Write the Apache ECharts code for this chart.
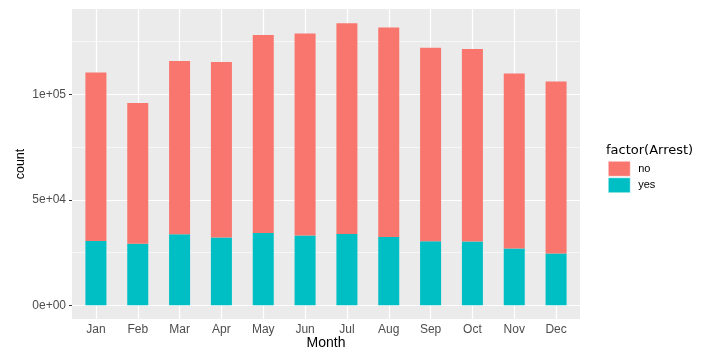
<!DOCTYPE html>
<html>
<head>
<meta charset="utf-8">
<script src="https://cdn.jsdelivr.net/npm/echarts@6/dist/echarts.min.js"></script>
<style>
html,body{margin:0;padding:0;background:#fff;}
#chart{width:710px;height:355px;}
</style>
</head>
<body>
<div id="chart"></div>
<script>
const months = ['Jan','Feb','Mar','Apr','May','Jun','Jul','Aug','Sep','Oct','Nov','Dec'];
const yesCounts = [30500, 29100, 33700, 32100, 34200, 33100, 33800, 32300, 30400, 30200, 26900, 24500];
const noCounts = [79800, 66800, 82000, 83200, 93900, 95700, 99900, 99300, 91600, 91200, 82900, 81500];
const yTickValues = [0, 50000, 100000];
const yTickLabels = ['0e+00', '5e+04', '1e+05'];
const yMinorGrid = [25000, 75000, 125000];

const fontFam = '"Liberation Sans", Arial, sans-serif';
const wideFam = '"DejaVu Sans", sans-serif';
const Y_MIN = -6500, Y_MAX = 140400;

const chart = echarts.init(document.getElementById('chart'), null, {renderer: 'canvas'});

const hLines = [];
yTickValues.forEach(v => hLines.push({yAxis: v, lineStyle: {color: '#ffffff', width: 1.2, type: 'solid'}}));
yMinorGrid.forEach(v => hLines.push({yAxis: v, lineStyle: {color: '#ffffff', width: 0.6, type: 'solid'}}));
const vLines = months.map(m => ({xAxis: m, lineStyle: {color: '#ffffff', width: 1.2, type: 'solid'}}));

chart.setOption({
  animation: false,
  backgroundColor: '#ffffff',
  title: {
    text: 'factor(Arrest)',
    left: 601, top: 139,
    textStyle: {fontFamily: wideFam, fontSize: 13, fontWeight: 'normal', color: '#000'}
  },
  legend: {
    data: ['no', 'yes'],
    orient: 'vertical',
    left: 603, top: 156,
    itemWidth: 22, itemHeight: 15, itemGap: 1,
    icon: 'rect',
    itemStyle: {borderColor: '#ffffff', borderWidth: 0.5},
    textStyle: {fontFamily: fontFam, fontSize: 11, color: '#000', padding: [0,0,0,3]}
  },
  grid: [
    {left: 72, top: 9, width: 508, height: 310, show: true, backgroundColor: '#EBEBEB', borderWidth: 0,
     containLabel: false, outerBoundsMode: 'none'},
    {left: 75, top: 9, width: 502, height: 310, show: false,
     containLabel: false, outerBoundsMode: 'none'}
  ],
  xAxis: [
    {
      gridIndex: 0, type: 'value', min: 0, max: 1, show: false
    },
    {
      gridIndex: 1, type: 'category', data: months, boundaryGap: true,
      name: 'Month', nameLocation: 'middle', nameGap: 17, nameMoveOverlap: false,
      nameTextStyle: {fontFamily: fontFam, fontSize: 14, color: '#000'},
      axisLine: {show: false},
      splitLine: {show: false},
      axisTick: {show: true, alignWithLabel: true, length: 3, lineStyle: {color: '#333'}},
      axisLabel: {fontFamily: fontFam, fontSize: 12, color: '#4D4D4D', margin: 5}
    }
  ],
  yAxis: [
    {
      gridIndex: 0, type: 'value', min: Y_MIN, max: Y_MAX,
      name: 'count', nameLocation: 'middle', nameRotate: 90, nameGap: 45, nameMoveOverlap: false,
      nameTextStyle: {fontFamily: fontFam, fontSize: 12.5, color: '#000'},
      axisLine: {show: false},
      splitLine: {show: false},
      axisTick: {show: true, customValues: yTickValues, length: 3, lineStyle: {color: '#333'}},
      axisLabel: {
        customValues: yTickValues,
        formatter: v => yTickLabels[yTickValues.indexOf(v)],
        fontFamily: fontFam, fontSize: 12, color: '#4D4D4D', margin: 6
      }
    },
    {
      gridIndex: 1, type: 'value', min: Y_MIN, max: Y_MAX, show: false, splitLine: {show: false}
    }
  ],
  series: [
    {
      name: 'grid', type: 'line', xAxisIndex: 0, yAxisIndex: 0, data: [],
      silent: true, legendHoverLink: false,
      markLine: {silent: true, symbol: 'none', z: 1, animation: false, label: {show: false}, data: hLines}
    },
    {
      name: 'yes', type: 'bar', stack: 'a', barWidth: 21, xAxisIndex: 1, yAxisIndex: 1,
      itemStyle: {color: '#00BFC4'},
      data: yesCounts,
      markLine: {silent: true, symbol: 'none', z: 1, animation: false, label: {show: false}, data: vLines}
    },
    {
      name: 'no', type: 'bar', stack: 'a', barWidth: 21, xAxisIndex: 1, yAxisIndex: 1,
      itemStyle: {color: '#F8766D'},
      data: noCounts
    }
  ]
});
</script>
</body>
</html>
